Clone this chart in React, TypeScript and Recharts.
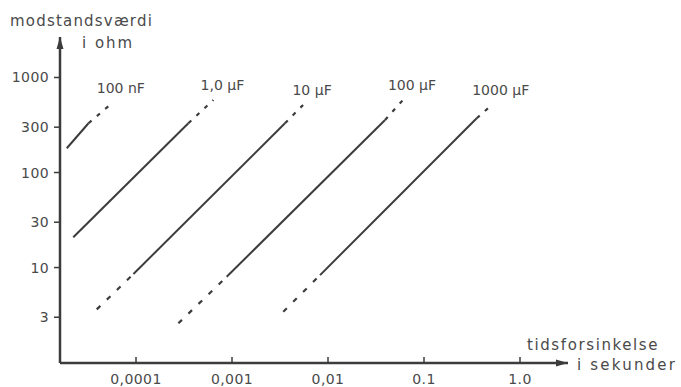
import React from "react";
import { LineChart, Line, XAxis, YAxis } from "recharts";

// Tick values and labels
const xTicks = [0.0001, 0.001, 0.01, 0.1, 1];
const xTickLabels = ["0,0001", "0,001", "0,01", "0.1", "1.0"];
const yTicks = [3, 10, 30, 100, 300, 1000];
const yTickLabels = ["3", "10", "30", "100", "300", "1000"];

// Capacitor names
const capacitorLabels = ["100 nF", "1,0 µF", "10 µF", "100 µF", "1000 µF"];

// Line segments: t = delay (s), r = resistance (ohm)
const c100nSolid = [{ t: 1.9e-5, r: 180 }, { t: 3.2e-5, r: 330 }];
const c100nUpper = [{ t: 3.2e-5, r: 330 }, { t: 5.6e-5, r: 535 }];

const c1uSolid = [{ t: 2.22e-5, r: 20.8 }, { t: 3.51e-4, r: 330 }];
const c1uUpper = [{ t: 3.51e-4, r: 330 }, { t: 6.4e-4, r: 580 }];

const c10uLower = [{ t: 3.9e-5, r: 3.63 }, { t: 9.4e-5, r: 8.55 }];
const c10uSolid = [{ t: 9.4e-5, r: 8.55 }, { t: 3.56e-3, r: 330 }];
const c10uUpper = [{ t: 3.56e-3, r: 330 }, { t: 5.5e-3, r: 514 }];

const c100uLower = [{ t: 2.76e-4, r: 2.59 }, { t: 8.8e-4, r: 8.0 }];
const c100uSolid = [{ t: 8.8e-4, r: 8.0 }, { t: 0.0393, r: 357 }];
const c100uUpper = [{ t: 0.0393, r: 357 }, { t: 0.0604, r: 580 }];

const c1000uLower = [{ t: 3.42e-3, r: 3.43 }, { t: 8.26e-3, r: 8.33 }];
const c1000uSolid = [{ t: 8.26e-3, r: 8.33 }, { t: 0.354, r: 372 }];
const c1000uUpper = [{ t: 0.354, r: 372 }, { t: 0.507, r: 514 }];

const xDomain = [1.615e-5, 3.162];
const yDomain = [0.99, 2667];

const INK = "#3c3c3c";
const TEXT = "#4a4a4a";
const FONT = "'DejaVu Sans', sans-serif";

type Seg = { data: { t: number; r: number }[]; kind: "solid" | "low" | "up"; label?: string };

const segments: Seg[] = [
  { data: c100nSolid, kind: "solid" },
  { data: c100nUpper, kind: "up", label: capacitorLabels[0] },
  { data: c1uSolid, kind: "solid" },
  { data: c1uUpper, kind: "up", label: capacitorLabels[1] },
  { data: c10uLower, kind: "low" },
  { data: c10uSolid, kind: "solid" },
  { data: c10uUpper, kind: "up", label: capacitorLabels[2] },
  { data: c100uLower, kind: "low" },
  { data: c100uSolid, kind: "solid" },
  { data: c100uUpper, kind: "up", label: capacitorLabels[3] },
  { data: c1000uLower, kind: "low" },
  { data: c1000uSolid, kind: "solid" },
  { data: c1000uUpper, kind: "up", label: capacitorLabels[4] },
];

const XTick = (props: any) => {
  const { x, y, payload } = props;
  const i = xTicks.indexOf(payload.value);
  return (
    <g>
      <line x1={x} x2={x} y1={y} y2={y - 6} stroke={INK} strokeWidth={1.5} />
      <text x={x} y={y + 21} textAnchor="middle" fill={TEXT} fontSize={14} fontFamily={FONT} letterSpacing={0.4}>
        {i >= 0 ? xTickLabels[i] : payload.value}
      </text>
    </g>
  );
};

const YTick = (props: any) => {
  const { x, y, payload } = props;
  const i = yTicks.indexOf(payload.value);
  return (
    <g>
      <line x1={x - 6} x2={x} y1={y} y2={y} stroke={INK} strokeWidth={1.5} />
      <text x={x - 11} y={y + 5} textAnchor="end" fill={TEXT} fontSize={14} fontFamily={FONT} letterSpacing={0.4}>
        {i >= 0 ? yTickLabels[i] : payload.value}
      </text>
    </g>
  );
};

const YTitle = (props: any) => {
  const vb = props.viewBox || { x: 0, y: 37, width: 60, height: 326 };
  const ax = vb.x + vb.width;
  const top = vb.y;
  return (
    <g>
      <path d={`M ${ax - 3.5} ${top + 12} L ${ax} ${top} L ${ax + 3.5} ${top + 12} Z`} fill={INK} />
      <text x={10} y={top - 11} fill={TEXT} fontSize={15} fontFamily={FONT} letterSpacing={1.2}>
        modstandsværdi
      </text>
      <text x={82} y={top + 11} fill={TEXT} fontSize={15} fontFamily={FONT} letterSpacing={2}>
        i ohm
      </text>
    </g>
  );
};

const XTitle = (props: any) => {
  const vb = props.viewBox || { x: 60, y: 363, width: 508, height: 24 };
  const right = vb.x + vb.width;
  const ay = vb.y;
  return (
    <g>
      <path d={`M ${right - 12} ${ay - 3.5} L ${right} ${ay} L ${right - 12} ${ay + 3.5} Z`} fill={INK} />
      <text x={right - 41} y={ay - 13} fill={TEXT} fontSize={15} fontFamily={FONT} letterSpacing={1.6}>
        tidsforsinkelse
      </text>
      <text x={right + 9} y={ay + 7} fill={TEXT} fontSize={15} fontFamily={FONT} letterSpacing={2.2}>
        i sekunder
      </text>
    </g>
  );
};

export default function App() {
  return (
    <div style={{ position: "fixed", left: 0, top: 0, width: 681, height: 387, background: "#fff" }}>
      <LineChart width={681} height={387} margin={{ top: 37, right: 113, bottom: 0, left: 0 }}>
        <XAxis
          dataKey="t"
          type="number"
          scale="log"
          domain={xDomain}
          allowDataOverflow
          ticks={xTicks}
          tick={<XTick />}
          tickLine={false}
          tickSize={0}
          tickMargin={0}
          height={24}
          axisLine={{ stroke: INK, strokeWidth: 2.5 }}
          label={<XTitle />}
          interval={0}
        />
        <YAxis
          dataKey="r"
          type="number"
          scale="log"
          domain={yDomain}
          allowDataOverflow
          ticks={yTicks}
          tick={<YTick />}
          tickLine={false}
          tickSize={0}
          tickMargin={0}
          width={60}
          axisLine={{ stroke: INK, strokeWidth: 2.5 }}
          label={<YTitle />}
          interval={0}
        />
        {segments.map((s, k) => (
          <Line
            key={k}
            data={s.data}
            dataKey="r"
            type="linear"
            stroke={INK}
            strokeWidth={s.kind === "solid" ? 2 : 2.2}
            strokeDasharray={s.kind === "solid" ? undefined : s.kind === "low" ? "5 9" : "4 7"}
            dot={false}
            activeDot={false}
            isAnimationActive={false}
            label={
              s.label
                ? (p: any) =>
                    p.index === s.data.length - 1 ? (
                      <text
                        key={`lbl-${k}`}
                        x={p.x + 9}
                        y={p.y - 10}
                        textAnchor="middle"
                        fill={TEXT}
                        fontSize={14}
                        fontFamily={FONT}
                      >
                        {s.label}
                      </text>
                    ) : null
                : false
            }
          />
        ))}
      </LineChart>
    </div>
  );
}
